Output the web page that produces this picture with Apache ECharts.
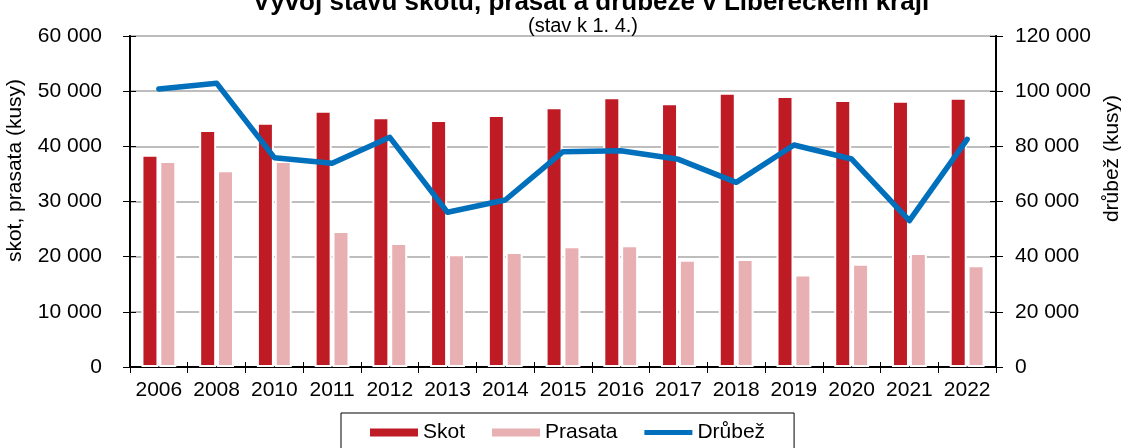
<!DOCTYPE html>
<html><head><meta charset="utf-8">
<script src="https://cdn.jsdelivr.net/npm/echarts@6/dist/echarts.min.js"></script>
<style>html,body{margin:0;padding:0;background:#fff}#c{width:1121px;height:448px}</style>
</head><body><div id="c"></div>
<script>
const years = ['2006','2008','2010','2011','2012','2013','2014','2015','2016','2017','2018','2019','2020','2021','2022'];
const skot = [38480,42960,44290,46470,45260,44770,45680,47070,48880,47790,49730,49120,48400,48280,48820];
const prasata = [37340,35650,37340,24650,22480,20420,20850,21870,22050,19460,19580,16790,18730,20660,18430];
const drubez = [100800,102900,75900,73850,83270,56080,60540,78060,78420,75290,66950,80480,75400,53050,82540];
const titleText = 'Vývoj stavu skotu, prasat a drůbeže v Libereckém kraji';
const subtitleText = '(stav k 1. 4.)';
const leftName = 'skot, prasata (kusy)';
const rightName = 'drůbež (kusy)';

const FONT = '"Liberation Sans", Arial, Helvetica, sans-serif';
const FS = 21;
const fmt = v => String(v).replace(/\B(?=(\d{3})+(?!\d))/g, ' ');
const chart = echarts.init(document.getElementById('c'), null, {renderer: 'canvas'});
const gridBox = {left: 130, right: 125, top: 36, bottom: 81, containLabel: false, outerBoundsMode: 'none'};
const yAxisMain = (side, max, interval) => ({
  type: 'value', gridIndex: 0, min: 0, max: max, interval: interval, position: side,
  axisLine: {show: true, lineStyle: {color: '#000', width: 2}},
  axisTick: {show: true, length: 7, lineStyle: {color: '#000', width: 1}},
  splitLine: {show: false}
});
const yAxisInner = (side, max, interval) => ({
  type: 'value', gridIndex: 1, min: 0, max: max, interval: interval, position: side,
  axisLine: {show: false},
  axisTick: {show: true, inside: true, length: 6, lineStyle: {color: '#000', width: 1}},
  axisLabel: {show: false}, splitLine: {show: false}
});
const option = {
  animation: false,
  textStyle: {fontFamily: FONT},
  title: [
    {text: titleText, left: 586, textAlign: 'center', top: -15,
     textStyle: {fontFamily: FONT, fontSize: 26, fontWeight: 'bold', color: '#000'}},
    {text: subtitleText, left: 578, textAlign: 'center', top: 11,
     textStyle: {fontFamily: FONT, fontSize: 20, fontWeight: 'normal', color: '#000'}}
  ],
  grid: [
    Object.assign({show: true, borderColor: '#000', borderWidth: 2, backgroundColor: 'transparent'}, gridBox),
    Object.assign({show: false}, gridBox)
  ],
  legend: {
    left: 341, top: 413, orient: 'horizontal',
    padding: [9, 29, 16, 29], itemGap: 27, itemWidth: 48, itemHeight: 8,
    borderColor: '#000', borderWidth: 1, backgroundColor: '#fff',
    textStyle: {fontFamily: FONT, fontSize: FS, color: '#000'},
    itemStyle: {borderWidth: 0},
    data: [
      {name: 'Skot', icon: 'rect'},
      {name: 'Prasata', icon: 'rect'},
      {name: 'Drůbež', icon: 'path://M0,0L0.001,0L0,0.001ZM0,1.5L48,1.5L48,6.5L0,6.5ZM0,8L0.001,8L0,7.999Z'}
    ]
  },
  xAxis: [
    {type: 'category', gridIndex: 0, data: years, position: 'bottom',
     axisLine: {show: true, onZero: false, lineStyle: {color: '#000', width: 2}},
     axisTick: {show: true, length: 6, lineStyle: {color: '#000', width: 1}},
     axisLabel: {fontFamily: FONT, fontSize: FS, color: '#000', margin: 13, interval: 0},
     splitLine: {show: false}},
    {type: 'category', gridIndex: 1, data: years, position: 'bottom',
     axisLine: {show: false},
     axisTick: {show: true, inside: true, length: 5, lineStyle: {color: '#000', width: 1}},
     axisLabel: {show: false}, splitLine: {show: false}}
  ],
  yAxis: [
    Object.assign(yAxisMain('left', 60000, 10000), {
      name: leftName, nameLocation: 'middle', nameGap: 104,
      nameTextStyle: {fontFamily: FONT, fontSize: FS, color: '#000', padding: [0, 0, 0, 62]},
      axisLabel: {fontFamily: FONT, fontSize: FS, color: '#000', margin: 28, formatter: fmt},
      splitLine: {show: true, lineStyle: {color: '#bdbdbd', width: 2}}
    }),
    Object.assign(yAxisMain('right', 120000, 20000), {
      name: rightName, nameLocation: 'middle', nameGap: 100,
      nameTextStyle: {fontFamily: FONT, fontSize: FS, color: '#000', padding: [0, 0, 0, 86]},
      axisLabel: {fontFamily: FONT, fontSize: FS, color: '#000', margin: 19, formatter: fmt}
    }),
    yAxisInner('left', 60000, 10000),
    yAxisInner('right', 120000, 20000)
  ],
  series: [
    {name: 'Skot', type: 'bar', data: skot, xAxisIndex: 0, yAxisIndex: 0, barWidth: 17, barGap: '5%',
     itemStyle: {color: '#be1b24', borderColor: '#fff', borderWidth: 2}, z: 2},
    {name: 'Prasata', type: 'bar', data: prasata, xAxisIndex: 0, yAxisIndex: 0, barWidth: 17, barGap: '5%',
     itemStyle: {color: '#e8b0b3', borderColor: '#fff', borderWidth: 2}, z: 2},
    {name: 'Drůbež', type: 'line', data: drubez, xAxisIndex: 0, yAxisIndex: 1, showSymbol: false, symbol: 'none',
     lineStyle: {color: '#0070bc', width: 5.5, join: 'round', cap: 'round'}, itemStyle: {color: '#0070bc'}, z: 5}
  ]
};
chart.setOption(option);
</script></body></html>
